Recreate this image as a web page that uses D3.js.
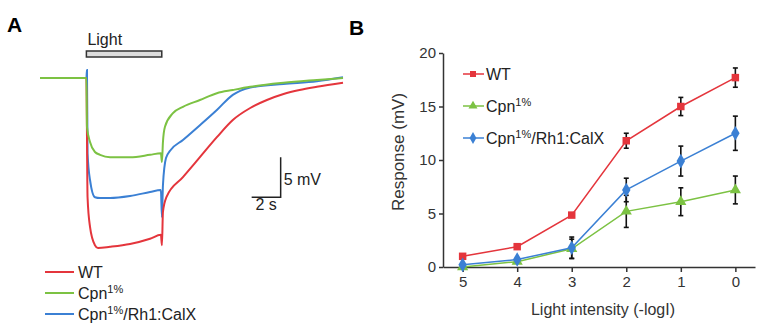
<!DOCTYPE html>
<html>
<head>
<meta charset="utf-8">
<script src="https://d3js.org/d3.v7.min.js"></script>
<style>
  body { margin: 0; background: #fff; }
  svg { font-family: "Liberation Sans", Arial, sans-serif; }
</style>
</head>
<body>
<div id="chart"></div>
<script>
// ---- panel A: voltage traces, [time (s), response (mV)]
let traceWT = [[0, 0], [3.2, 0], [3.28, -14.9], [3.45, -18.6], [3.79, -20.9], [4.0, -21.25],
  [4.83, -21.1], [6.21, -20.75], [7.59, -20.1], [8.34, -19.6], [8.41, -20.9], [8.48, -16.75],
  [8.72, -14.9], [9.86, -12.4], [11.03, -9.9], [12.2, -7.4], [13.3, -5.25], [14.5, -3.75],
  [15.65, -2.75], [16.8, -2.0], [17.9, -1.5], [19.1, -1.1], [20.9, -0.6]];
let traceCpn = [[0, 0], [3.2, 0], [3.24, -6.1], [3.45, -8.0], [3.79, -9.25], [4.14, -9.6],
  [4.83, -9.9], [6.21, -9.9], [7.59, -9.6], [8.34, -9.4], [8.41, -10.5], [8.48, -8.0],
  [8.62, -6.1], [9.17, -4.4], [9.86, -3.6], [11.03, -2.75], [12.2, -1.9], [13.3, -1.5],
  [14.5, -1.1], [16.8, -0.6], [19.1, -0.25], [20.9, 0]];
let traceCalX = [[0, 0], [3.2, 0], [3.24, 1.0], [3.28, -9.4], [3.45, -12.75], [3.79, -14.9],
  [4.14, -15], [4.83, -15], [6.21, -14.75], [7.59, -14.25], [8.34, -14], [8.41, -17.4],
  [8.48, -13.4], [8.69, -10], [8.97, -9.1], [9.86, -7.75], [11.03, -5.9], [12.2, -4.0],
  [13.3, -2.1], [13.8, -1.6], [14.5, -1.2], [16.8, -0.75], [19.1, -0.4], [20.9, 0.1]];
let lightOn = 3.2, lightOff = 8.4;

// ---- panel B: intensity-response
let intensities = ["5", "4", "3", "2", "1", "0"];
let wtMean = [1.0, 1.9, 4.85, 11.8, 15.0, 17.7];
let wtErr = [0, 0, 0, 0.7, 0.85, 0.9];
let cpnMean = [0, 0.5, 1.7, 5.2, 6.1, 7.2];
let cpnErr = [0, 0, 0.9, 1.5, 1.3, 1.3];
let calxMean = [0.2, 0.7, 1.8, 7.2, 9.9, 12.5];
let calxErr = [0, 0, 1.0, 1.1, 1.4, 1.6];
let yTicks = [0, 5, 10, 15, 20];

let red = "#e4353c", green = "#7cc243", blue = "#3b80d4";

let svg = d3.select("#chart").append("svg")
  .attr("width", 772).attr("height", 332);

// panel letters
svg.append("text").attr("x", 7).attr("y", 32).text("A")
  .style("font-weight", "bold").style("font-size", "21px");
svg.append("text").attr("x", 349).attr("y", 35).text("B")
  .style("font-weight", "bold").style("font-size", "21px");

// ================= panel A
let xA = d3.scaleLinear().domain([0, 20.9]).range([40, 343]);
let yA = d3.scaleLinear().domain([0, -21.25]).range([78, 248]);

svg.append("rect")
  .attr("x", xA(lightOn)).attr("y", 51)
  .attr("width", xA(lightOff) - xA(lightOn)).attr("height", 6)
  .attr("fill", "#ddd").attr("stroke", "#333").attr("stroke-width", 1.5);
svg.append("text").attr("x", xA(lightOn) + 1).attr("y", 45).text("Light")
  .style("font-size", "16px").attr("fill", "#222");

let traceLine = d3.line()
  .x(d => xA(d[0])).y(d => yA(d[1]))
  .curve(d3.curveMonotoneX);

let traces = [
  { data: traceCalX, color: blue },
  { data: traceWT, color: red },
  { data: traceCpn, color: green }
];
svg.append("g").selectAll("path")
  .data(traces).enter().append("path")
  .attr("d", d => traceLine(d.data))
  .attr("fill", "none")
  .attr("stroke", d => d.color)
  .attr("stroke-width", 2);

// scale bar
let sbT = 16.6, sbV = -14.9;
svg.append("path")
  .attr("d", "M" + xA(sbT - 2) + "," + yA(sbV) + "H" + xA(sbT) + "V" + yA(sbV + 5))
  .attr("fill", "none").attr("stroke", "#222").attr("stroke-width", 1.5);
svg.append("text").attr("x", xA(sbT) + 3).attr("y", yA(sbV) - 12).text("5 mV")
  .style("font-size", "16px").attr("fill", "#222");
svg.append("text").attr("x", xA(sbT - 1)).attr("y", yA(sbV) + 13).text("2 s")
  .attr("text-anchor", "middle")
  .style("font-size", "16px").attr("fill", "#222");

// legend text with superscripts
function legendLabel(sel, i) {
  if (i === 0) {
    sel.text("WT");
    return;
  }
  sel.append("tspan").text("Cpn");
  sel.append("tspan").text("1%").attr("dy", -6).style("font-size", "11px");
  if (i === 2) sel.append("tspan").text("/Rh1:CalX").attr("dy", 6);
}

let legendColors = [red, green, blue];
let legA = svg.append("g").selectAll("g")
  .data(legendColors).enter().append("g")
  .attr("transform", (d, i) => "translate(0," + (272 + i * 21) + ")");
legA.append("line").attr("x1", 45).attr("x2", 74)
  .attr("stroke", d => d).attr("stroke-width", 2);
legA.append("text").attr("x", 78).attr("y", 6)
  .style("font-size", "16px").attr("fill", "#222")
  .each(function (d, i) { legendLabel(d3.select(this), i); });

// ================= panel B
let xB = d3.scalePoint().domain(intensities).range([443, 755]).padding(0.36);
let yB = d3.scaleLinear().domain([0, 20]).range([267, 53]);

let gx = svg.append("g").attr("transform", "translate(0,267)")
  .call(d3.axisBottom(xB).tickSize(5).tickSizeOuter(0).tickPadding(4));
let gy = svg.append("g").attr("transform", "translate(443,0)")
  .call(d3.axisLeft(yB).tickValues(yTicks).tickSize(4).tickSizeOuter(0).tickPadding(3));
[gx, gy].forEach(g => {
  g.selectAll("path, line").attr("stroke", "#333").attr("stroke-width", 1.5);
  g.selectAll("text").style("font-size", "15px").attr("fill", "#333")
    .style("font-family", "'Liberation Sans', Arial, sans-serif");
});

svg.append("text").attr("x", 603).attr("y", 315).attr("text-anchor", "middle")
  .text("Light intensity (-logI)").style("font-size", "16px").attr("fill", "#333");
svg.append("text").attr("transform", "translate(404,152) rotate(-90)")
  .attr("text-anchor", "middle")
  .text("Response (mV)").style("font-size", "17px").attr("fill", "#333");

let series = [
  { mean: wtMean, err: wtErr, color: red, symbol: d3.symbolSquare, size: 56 },
  { mean: cpnMean, err: cpnErr, color: green, symbol: d3.symbolTriangle, size: 54 },
  { mean: calxMean, err: calxErr, color: blue, symbol: d3.symbolDiamond, size: 62 }
];

let seriesLine = d3.line().x(d => xB(d.key)).y(d => yB(d.value));
function points(s) {
  return intensities.map((k, i) => ({ key: k, value: s.mean[i], err: s.err[i] }));
}

// lines
svg.append("g").selectAll("path")
  .data(series).enter().append("path")
  .attr("d", s => seriesLine(points(s)))
  .attr("fill", "none").attr("stroke", s => s.color).attr("stroke-width", 1.5);

// error bars
let eb = svg.append("g").selectAll("g")
  .data(series).enter().append("g")
  .selectAll("g")
  .data(s => points(s).filter(p => p.err > 0)).enter().append("g");
eb.append("line")
  .attr("x1", d => xB(d.key)).attr("x2", d => xB(d.key))
  .attr("y1", d => yB(d.value - d.err)).attr("y2", d => yB(d.value + d.err));
eb.append("line")
  .attr("x1", d => xB(d.key) - 2.5).attr("x2", d => xB(d.key) + 2.5)
  .attr("y1", d => yB(d.value + d.err)).attr("y2", d => yB(d.value + d.err));
eb.append("line")
  .attr("x1", d => xB(d.key) - 2.5).attr("x2", d => xB(d.key) + 2.5)
  .attr("y1", d => yB(d.value - d.err)).attr("y2", d => yB(d.value - d.err));
eb.selectAll("line").attr("stroke", "#111").attr("stroke-width", 1.6);

// markers
svg.append("g").selectAll("g")
  .data(series).enter().append("g")
  .each(function (s) {
    d3.select(this).selectAll("path")
      .data(points(s)).enter().append("path")
      .attr("transform", d => "translate(" + xB(d.key) + "," + yB(d.value) + ")")
      .attr("d", d3.symbol().type(s.symbol).size(s.size))
      .attr("fill", s.color);
  });

// legend B
let legB = svg.append("g").selectAll("g")
  .data(series).enter().append("g")
  .attr("transform", (d, i) => "translate(0," + (74 + i * 32) + ")");
legB.append("line").attr("x1", 463).attr("x2", 484)
  .attr("stroke", d => d.color).attr("stroke-width", 1.5);
legB.append("path")
  .attr("transform", "translate(473,0)")
  .attr("d", d => d3.symbol().type(d.symbol).size(d.size * 0.65)())
  .attr("fill", d => d.color);
legB.append("text").attr("x", 486).attr("y", 6)
  .style("font-size", "16px").attr("fill", "#222")
  .each(function (d, i) { legendLabel(d3.select(this), i); });
</script>
</body>
</html>
